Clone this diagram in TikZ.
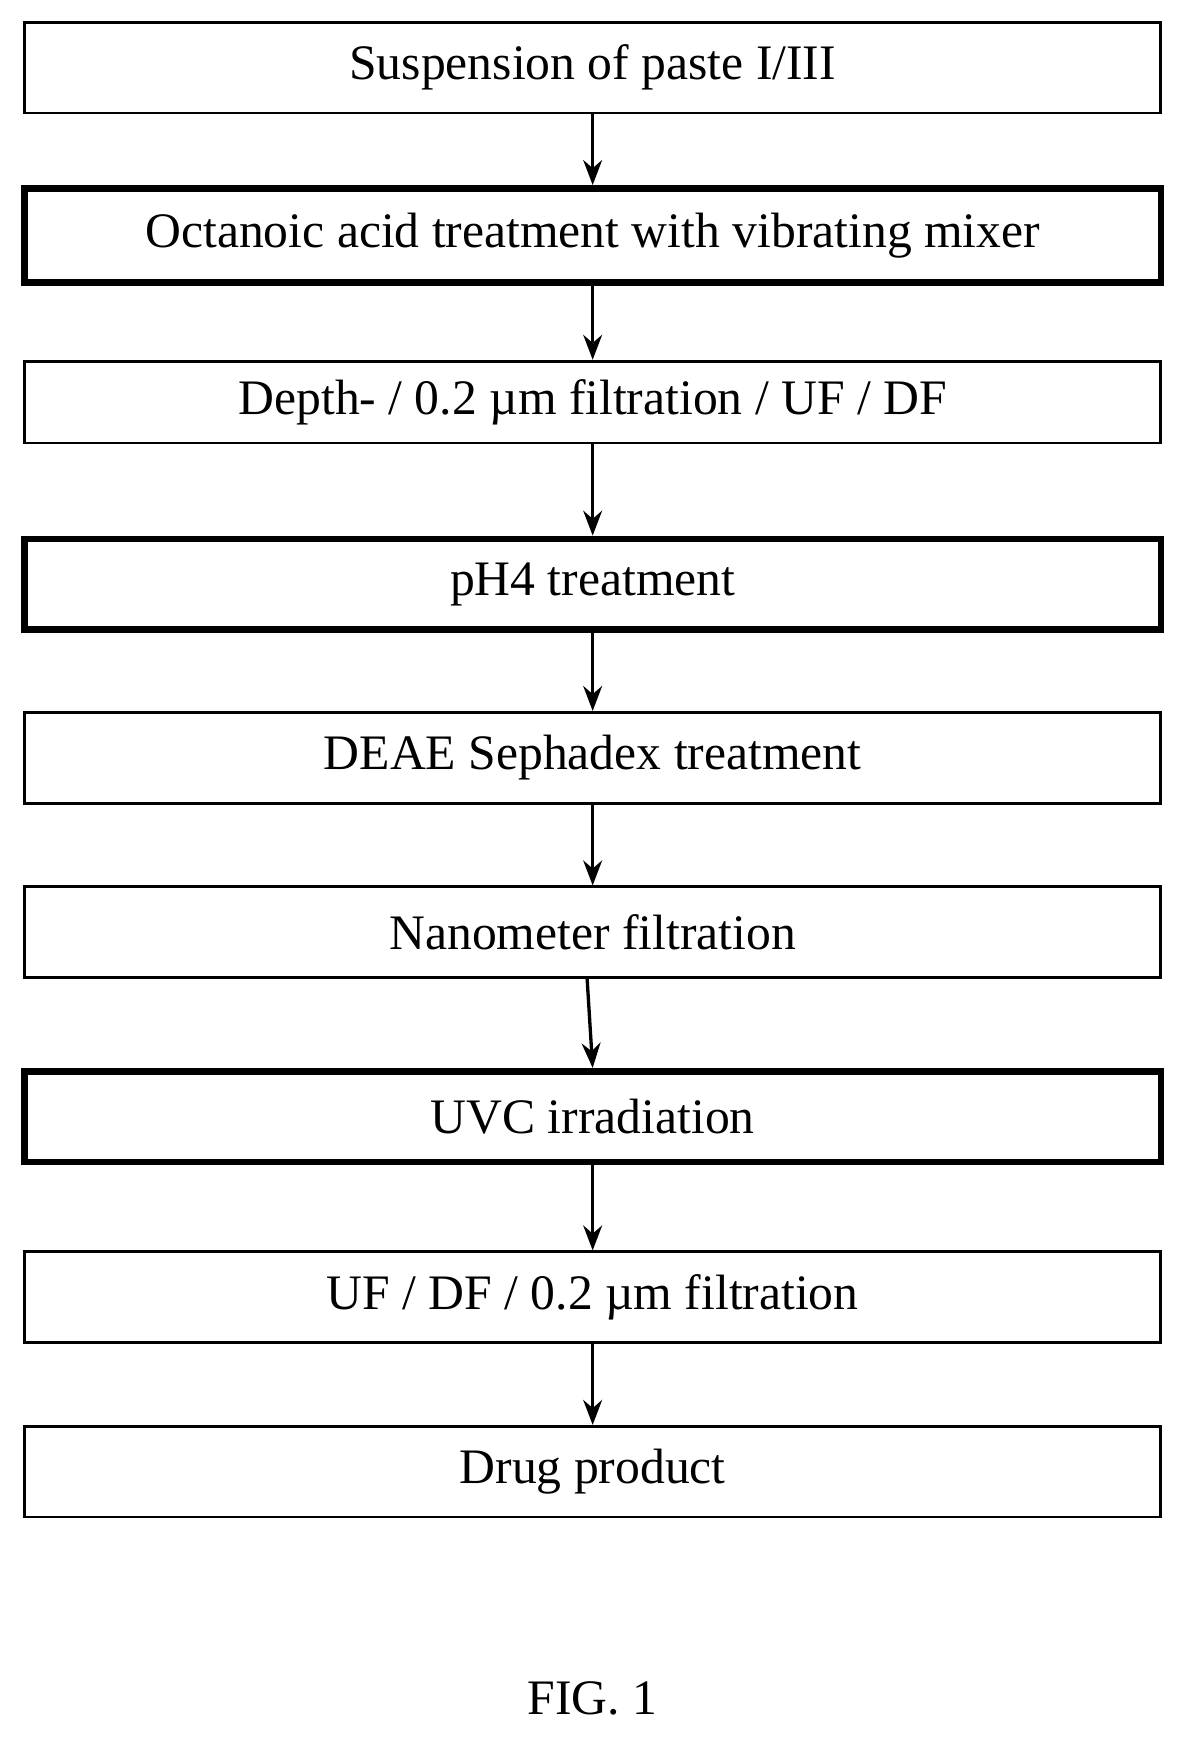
\documentclass[tikz,border=0pt]{standalone}
\usepackage{fontspec}
\setmainfont{Liberation Serif}
\usetikzlibrary{arrows.meta}
\usetikzlibrary{positioning}
\tikzset{
  > = {Stealth[length=0.45cm,width=0.34cm]},
  stage/.style = {rectangle,
                  draw,
                  line width = 1.4pt,
                  align = center,
                  font = \fontsize{25.5}{28}\selectfont,
                  minimum width = 20.52cm,
                  minimum height = 1.64cm,
                  inner sep = 0pt},
  keystage/.style = {stage,
                     line width = 3.4pt},
  flow/.style = {->, line width = 1.7pt}
}
\begin{document}
\begin{tikzpicture}[x=0.02cm, y=-0.02cm]
\useasboundingbox (0,0) rectangle (1070,1568);

\node[stage](suspension) at (535,61) {Suspension of paste I/III};
\node[keystage, minimum height = 1.7cm](octanoic) at (535,212.5) {Octanoic acid treatment with vibrating mixer};
\node[stage, minimum height = 1.48cm](depth) at (535,363) {Depth- / 0.2 µm filtration / UF / DF};
\node[keystage](ph) at (535,527.5) {pH4 treatment};
\node[stage](deae) at (535,684) {DEAE Sephadex treatment};
\node[stage](nano) at (535,841.5) {Nanometer filtration};
\node[keystage](uvc) at (535,1008) {UVC irradiation};
\node[stage](ufdf) at (535,1171) {UF / DF / 0.2 µm filtration};
\node[stage](drug) at (535,1328.5) {Drug product};

\node[font = \fontsize{25.5}{28}\selectfont](fig) at (535,1533) {FIG. 1};

\draw[flow] (suspension) -- (octanoic);
\draw[flow] (octanoic) -- (depth);
\draw[flow] (depth) -- (ph);
\draw[flow] (ph) -- (deae);
\draw[flow] (deae) -- (nano);
\coordinate (nano-out) at ([xshift=-0.1cm]nano.south);
\draw[flow] (nano-out) -- (uvc.north);
\draw[flow] (uvc) -- (ufdf);
\draw[flow] (ufdf) -- (drug);

\end{tikzpicture}
\end{document}
